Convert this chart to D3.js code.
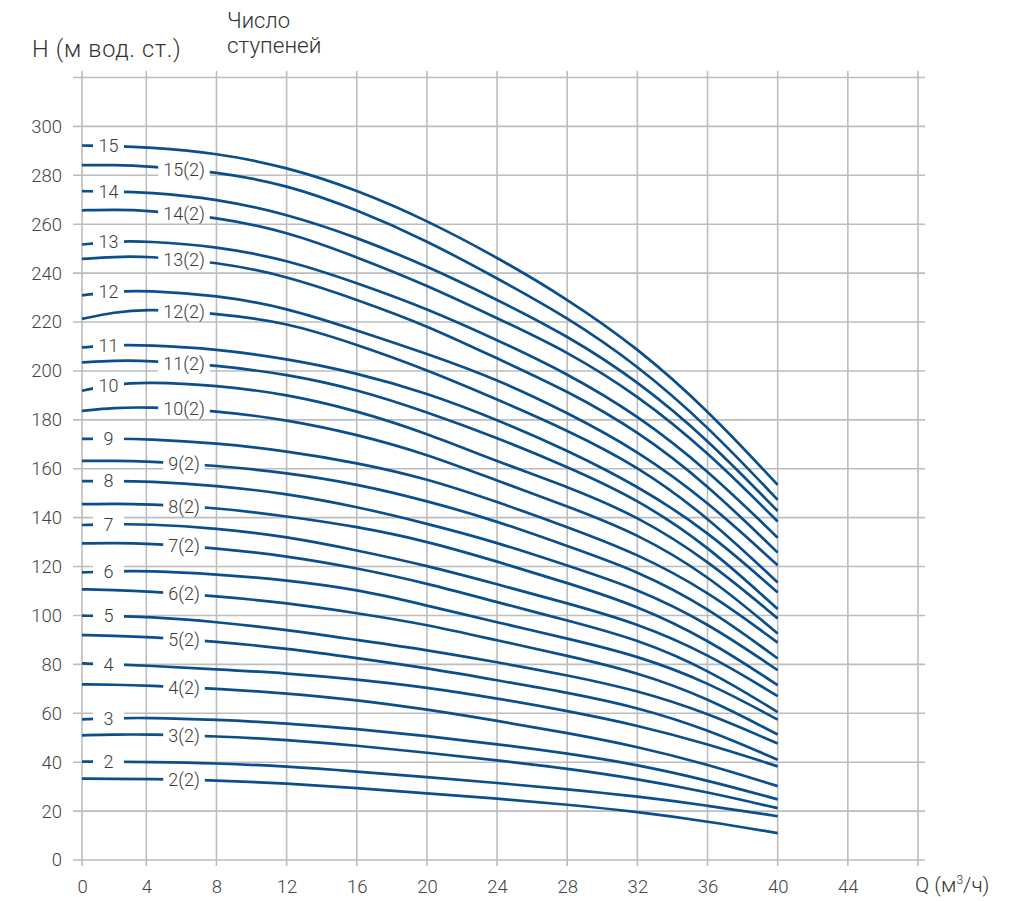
<!DOCTYPE html>
<html>
<head>
<meta charset="utf-8">
<script src="https://cdn.jsdelivr.net/npm/d3@7"></script>
<style>
  body { margin: 0; background: #fff; }
  text { font-family: Roboto, "Open Sans", sans-serif; font-weight: 300; }
</style>
</head>
<body>
<script>

// flow points where the curves were read (m3/h)
var flow = [0, 2, 4, 8, 12, 16, 20, 24, 28, 32, 36, 40];

// head (m) for each stage count
var h15   = [292.2, 292.0, 291.5, 289.2, 283.4, 274.1, 261.6, 246.5, 229.5, 209.5, 184.1, 153.4];
var h15_2 = [284.2, 284.2, 283.8, 281.5, 276.2, 266.0, 253.3, 237.9, 222.0, 202.4, 177.5, 147.3];
var h14   = [273.5, 273.4, 273.1, 270.5, 264.2, 254.7, 242.9, 229.2, 214.5, 196.0, 172.1, 142.7];
var h14_2 = [265.7, 265.9, 265.7, 262.9, 257.1, 246.6, 235.1, 221.6, 208.0, 190.2, 167.0, 138.4];
var h13   = [251.7, 253.0, 253.1, 251.0, 245.5, 236.0, 225.5, 212.7, 199.0, 182.0, 159.6, 131.8];
var h13_2 = [245.8, 246.7, 246.9, 244.6, 238.9, 229.2, 218.6, 205.1, 191.9, 175.6, 153.5, 125.7];
var h12   = [230.9, 232.6, 232.9, 231.0, 225.9, 216.6, 207.1, 196.6, 183.0, 167.5, 146.7, 120.5];
var h12_2 = [221.3, 224.0, 225.4, 223.5, 219.9, 210.8, 200.5, 188.4, 175.8, 161.2, 140.4, 113.5];
var h11   = [209.6, 210.6, 210.6, 209.0, 205.0, 199.2, 191.0, 180.1, 167.6, 153.1, 134.6, 109.4];
var h11_2 = [203.5, 204.2, 204.3, 202.3, 198.7, 192.5, 183.2, 172.7, 160.8, 147.6, 128.6, 102.6];
var h10   = [191.9, 194.6, 195.5, 194.2, 190.5, 183.8, 174.5, 163.0, 152.7, 140.7, 122.7, 98.8];
var h10_2 = [183.7, 184.9, 185.3, 183.7, 180.1, 174.1, 166.0, 155.1, 144.7, 133.5, 116.6, 92.6];
var h9    = [172.2, 172.3, 172.2, 170.5, 167.3, 162.5, 156.0, 146.5, 136.2, 125.3, 110.0, 88.9];
var h9_2  = [163.2, 163.3, 163.1, 161.3, 158.4, 153.8, 146.9, 138.6, 128.4, 118.3, 103.4, 82.4];
var h8    = [154.9, 155.0, 154.9, 153.1, 149.9, 144.5, 137.6, 129.9, 120.4, 111.0, 97.0, 77.6];
var h8_2  = [145.5, 145.7, 145.5, 144.1, 140.6, 136.4, 130.4, 122.1, 113.3, 104.0, 90.3, 71.5];
var h7    = [137.0, 137.3, 137.4, 135.7, 132.3, 126.7, 120.4, 112.8, 105.0, 96.8, 84.4, 67.0];
var h7_2  = [129.5, 129.6, 129.5, 127.5, 124.4, 119.4, 113.2, 105.4, 98.0, 90.3, 78.0, 60.5];
var h6    = [117.6, 118.1, 118.3, 116.9, 114.5, 110.7, 104.1, 97.2, 90.6, 83.6, 72.8, 57.4];
var h6_2  = [110.7, 110.4, 109.9, 107.9, 105.2, 101.0, 96.3, 89.8, 83.6, 76.8, 66.3, 51.3];
var h5    = [99.9, 99.8, 99.5, 97.4, 94.2, 90.0, 85.9, 80.9, 75.6, 69.4, 60.1, 47.6];
var h5_2  = [92.0, 91.7, 91.3, 89.4, 86.5, 82.6, 78.5, 73.5, 68.5, 62.5, 53.4, 41.0];
var h4    = [80.4, 80.0, 79.5, 78.0, 76.4, 73.9, 70.6, 66.1, 61.0, 55.1, 47.5, 38.3];
var h4_2  = [71.8, 71.7, 71.4, 70.1, 68.2, 65.5, 61.6, 56.9, 52.0, 46.4, 39.1, 30.2];
var h3    = [57.5, 58.0, 58.2, 57.4, 55.9, 53.6, 50.7, 47.4, 43.6, 39.0, 32.6, 24.8];
var h3_2  = [51.0, 51.3, 51.4, 50.6, 49.2, 46.8, 43.9, 40.8, 37.4, 33.2, 27.8, 21.2];
var h2    = [40.2, 40.2, 40.1, 39.6, 38.3, 36.2, 33.9, 31.5, 29.0, 26.0, 22.3, 17.9];
var h2_2  = [33.3, 33.2, 33.1, 32.6, 31.3, 29.4, 27.3, 25.1, 22.7, 19.7, 15.8, 11.0];

var xTicks = [0, 4, 8, 12, 16, 20, 24, 28, 32, 36, 40, 44];
var yTicks = [0, 20, 40, 60, 80, 100, 120, 140, 160, 180, 200, 220, 240, 260, 280, 300];

var curves = [
    {name: "15", two: false, h: h15}, {name: "15(2)", two: true, h: h15_2},
    {name: "14", two: false, h: h14}, {name: "14(2)", two: true, h: h14_2},
    {name: "13", two: false, h: h13}, {name: "13(2)", two: true, h: h13_2},
    {name: "12", two: false, h: h12}, {name: "12(2)", two: true, h: h12_2},
    {name: "11", two: false, h: h11}, {name: "11(2)", two: true, h: h11_2},
    {name: "10", two: false, h: h10}, {name: "10(2)", two: true, h: h10_2},
    {name: "9", two: false, h: h9},   {name: "9(2)", two: true, h: h9_2},
    {name: "8", two: false, h: h8},   {name: "8(2)", two: true, h: h8_2},
    {name: "7", two: false, h: h7},   {name: "7(2)", two: true, h: h7_2},
    {name: "6", two: false, h: h6},   {name: "6(2)", two: true, h: h6_2},
    {name: "5", two: false, h: h5},   {name: "5(2)", two: true, h: h5_2},
    {name: "4", two: false, h: h4},   {name: "4(2)", two: true, h: h4_2},
    {name: "3", two: false, h: h3},   {name: "3(2)", two: true, h: h3_2},
    {name: "2", two: false, h: h2},   {name: "2(2)", two: true, h: h2_2}
];

var width = 1017;
var height = 901;
var blue = "#0b4f8a";
var gridColor = "#bdbdbd";

var svg = d3.select("body")
    .append("svg")
    .attr("width", width)
    .attr("height", height);

// first interval of the x axis is a bit narrower in the original
var x = d3.scaleLinear().domain([0, 4, 48]).range([82, 146.3, 918]);
var y = d3.scaleLinear().domain([0, 320]).range([860, 77.5]);

var defs = svg.append("defs");
var gGrid = svg.append("g"),
    gKnock = svg.append("g"),
    gCurves = svg.append("g"),
    gLabels = svg.append("g");

// grid
gGrid.selectAll(".hline")
    .data(d3.range(0, 321, 20))
    .enter().append("line")
    .attr("x1", 73).attr("x2", 925)
    .attr("y1", function(d) { return y(d); })
    .attr("y2", function(d) { return y(d); })
    .attr("stroke", gridColor).attr("stroke-width", 1.6);

gGrid.selectAll(".vline")
    .data(d3.range(0, 49, 4))
    .enter().append("line")
    .attr("y1", 71).attr("y2", 866)
    .attr("x1", function(d) { return x(d); })
    .attr("x2", function(d) { return x(d); })
    .attr("stroke", gridColor).attr("stroke-width", 1.6);

// axes (labels only)
var xAxis = svg.append("g")
    .attr("transform", "translate(0," + y(0) + ")")
    .call(d3.axisBottom(x).tickValues(xTicks).tickSize(0).tickPadding(20));
var yAxis = svg.append("g")
    .attr("transform", "translate(" + x(0) + ",0)")
    .call(d3.axisLeft(y).tickValues(yTicks).tickSize(0).tickPadding(20));

[xAxis, yAxis].forEach(function(a) {
    a.select(".domain").remove();
    a.attr("font-size", 18.5).attr("font-family", "Roboto, sans-serif").attr("color", "#444");
});

// titles
svg.append("text").attr("x", 32).attr("y", 57)
    .attr("font-size", 23.5).attr("letter-spacing", 0.7)
    .attr("fill", "#333").text("H (м вод. ст.)");
svg.append("text").attr("x", 227).attr("y", 28)
    .attr("font-size", 22).attr("fill", "#333").text("Число");
svg.append("text").attr("x", 227).attr("y", 53)
    .attr("font-size", 22.5).attr("fill", "#333").text("ступеней");

var qLabel = svg.append("text").attr("x", 915).attr("y", 892)
    .attr("font-size", 21).attr("fill", "#333");
qLabel.append("tspan").text("Q (м");
qLabel.append("tspan").attr("dy", -8).attr("font-size", 12).text("3");
qLabel.append("tspan").attr("dy", 8).text("/ч)");

// curves with a gap where the label sits
var line = d3.line()
    .x(function(d, i) { return x(flow[i]); })
    .y(function(d) { return y(d); })
    .curve(d3.curveBasis);

curves.forEach(function(c, i) {
    var hAt = d3.scaleLinear().domain(flow).range(c.h);
    var cx = c.two ? 184 : 108.5;
    var cy = y(hAt(x.invert(cx)));

    var label = gLabels.append("text")
        .attr("x", cx).attr("y", cy)
        .attr("dy", "0.36em")
        .attr("text-anchor", "middle")
        .attr("font-size", 18)
        .attr("fill", "#3a3a3a")
        .text(c.name);

    var gapL, gapR;
    if (c.two) {
        var w = label.node().getComputedTextLength();
        gapL = cx - w / 2 - 5;
        gapR = cx + w / 2 + 5;
    } else {
        gapL = 93;
        gapR = 124;
    }

    gKnock.append("rect")
        .attr("x", gapL).attr("y", cy - 9)
        .attr("width", gapR - gapL).attr("height", 18)
        .attr("fill", "#fff");

    var clip = defs.append("clipPath").attr("id", "clip" + i);
    clip.append("rect").attr("x", 0).attr("y", 0).attr("width", gapL).attr("height", height);
    clip.append("rect").attr("x", gapR).attr("y", 0).attr("width", width - gapR).attr("height", height);

    gCurves.append("path")
        .datum(c.h)
        .attr("d", line)
        .attr("fill", "none")
        .attr("stroke", blue)
        .attr("stroke-width", 2.7)
        .attr("clip-path", "url(#clip" + i + ")");
});

</script>
</body>
</html>
